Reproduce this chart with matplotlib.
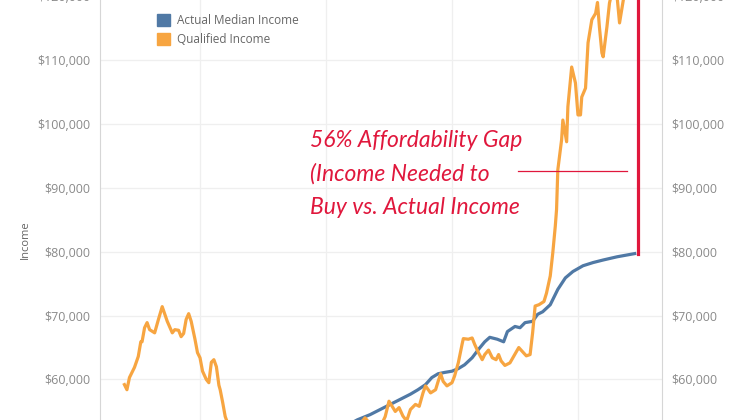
import matplotlib
matplotlib.use('Agg')
import matplotlib.pyplot as plt
from matplotlib.patches import Patch
from matplotlib.ticker import FuncFormatter

# qualified income (income needed to buy a median home)
q_years = [1984.0, 1984.2, 1984.4, 1984.6, 1984.8, 1985.1, 1985.3, 1985.4, 1985.6, 1985.8,
           1986.0, 1986.4, 1986.7, 1987.0, 1987.4, 1987.8, 1988.0, 1988.3, 1988.5, 1988.7,
           1988.9, 1989.1, 1989.3, 1989.6, 1989.8, 1990.0, 1990.2, 1990.5, 1990.7, 1990.9,
           1991.1, 1991.3, 1991.5, 1991.6, 1991.8, 1992.0, 1992.5, 1993.5, 1995.0, 1997.0,
           1999.0, 2001.0, 2002.5, 2003.1, 2003.6, 2004.3, 2004.7, 2005.0, 2005.5, 2005.8,
           2006.1, 2006.4, 2006.7, 2007.1, 2007.4, 2007.7, 2007.9, 2008.3, 2008.7, 2008.9,
           2009.1, 2009.3, 2009.6, 2010.0, 2010.2, 2010.5, 2010.8, 2010.9, 2011.3, 2011.6,
           2011.8, 2012.1, 2012.4, 2012.6, 2012.9, 2013.2, 2013.5, 2013.7, 2013.9, 2014.2,
           2014.6, 2015.3, 2015.9, 2016.2, 2016.4, 2016.6, 2016.9, 2017.3, 2017.5, 2017.8,
           2018.0, 2018.2, 2018.3, 2018.4, 2018.7, 2018.8, 2019.1, 2019.2, 2019.5, 2019.8,
           2020.0, 2020.2, 2020.3, 2020.6, 2020.8, 2021.1, 2021.4, 2021.55, 2021.7, 2021.9,
           2022.0, 2022.3, 2022.5, 2022.8, 2023.1, 2023.3, 2023.6, 2023.9, 2024.5]
qualified = [59200, 58400, 60300, 61100, 61900, 63600, 65900, 65900, 68100, 68900,
             67800, 67300, 69400, 71400, 69100, 67300, 67800, 67700, 66700, 67200,
             69400, 70300, 69100, 66300, 64200, 63400, 61300, 60000, 59500, 62700,
             63100, 62000, 59100, 58400, 56400, 54200, 51500, 48500, 47000, 47500,
             48500, 50500, 52500, 54000, 52800, 52500, 54200, 56600, 55000, 55600,
             54300, 53500, 55300, 56100, 55800, 57900, 59000, 57900, 58400, 59700,
             60900, 59700, 59000, 59500, 60500, 62600, 65500, 66400, 66300, 66500,
             65500, 64200, 63100, 63900, 64600, 63400, 63100, 63900, 62900, 62200,
             62600, 65000, 63700, 63900, 67300, 71500, 71700, 72200, 73500, 76200,
             79800, 84000, 86600, 92800, 97500, 100600, 97200, 102700, 108900, 106400,
             101400, 101400, 104200, 105600, 112700, 116300, 117300, 119000, 115200, 111100,
             110500, 115200, 118900, 121500, 120000, 115800, 119400, 123000, 124300]

# actual median household income
a_years = [1984.0, 1988.0, 1992.0, 1996.0, 2000.0, 2002.5, 2003.5, 2004.3, 2005.1, 2005.9,
           2006.7, 2007.3, 2007.9, 2008.4, 2008.9, 2009.4, 2010.0, 2010.5, 2011.0, 2011.6,
           2012.1, 2012.6, 2013.0, 2013.6, 2014.1, 2014.4, 2015.0, 2015.4, 2015.8, 2016.4,
           2016.8, 2017.2, 2017.8, 2018.4, 2019.0, 2019.6, 2020.4, 2021.2, 2022.0, 2023.1,
           2024.5]
actual = [36500, 40500, 44000, 47500, 51000, 53700, 54500, 55300, 56100, 56900,
          57700, 58400, 59200, 60300, 60900, 61100, 61300, 61700, 62300, 63400,
          64700, 65900, 66600, 66300, 65900, 67500, 68300, 68100, 68900, 69100,
          70200, 70600, 71700, 74100, 75900, 76900, 77800, 78300, 78700, 79200,
          79700]

y_ticks = [60000, 70000, 80000, 90000, 100000, 110000, 120000]
x_grid = [1990, 2000, 2010, 2020]

blue = '#5079a5'
orange = '#f7a541'
red = '#e0173c'
grey = '#8a8a8a'

fig = plt.figure(figsize=(7.4, 4.2), dpi=100)
ax = fig.add_axes([0.1351, -0.0557, 0.7595, 1.1411])

ax.plot(a_years, actual, color=blue, lw=2.3, solid_joinstyle='round', zorder=3)
ax.plot(q_years, qualified, color=orange, lw=2.3, solid_joinstyle='round', zorder=4)

# gap marker
ax.plot([2024.75, 2024.75], [actual[-1], qualified[-1]], color=red, lw=2.3, zorder=5)
ax.plot([2015.25, 2023.9], [92550, 92550], color=red, lw=0.9, zorder=5)

note = ['56% Affordability Gap', '(Income Needed to', 'Buy vs. Actual Income']
note_y = [96400, 91200, 85900]
for line, yv in zip(note, note_y):
    ax.text(1998.7, yv, line, color=red, fontsize=16.5, fontstyle='italic',
            family='Lato', va='baseline', ha='left', zorder=6)

ax.set_xlim(1982.06, 2026.67)
ax.set_ylim(50000, 125000)
ax.set_yticks(y_ticks)
ax.set_xticks(x_grid)
ax.yaxis.set_major_formatter(FuncFormatter(lambda v, p: '${:,.0f}'.format(v)))
ax.tick_params(axis='y', length=0, pad=7, labelsize=9, labelcolor=grey,
               labelleft=True, labelright=True)
ax.tick_params(axis='x', length=0, labelbottom=False)
for lab in ax.get_yticklabels():
    lab.set_family('Open Sans')
ax.grid(True, color='#efefef', lw=0.9)
ax.set_axisbelow(True)
for side in ['top', 'bottom']:
    ax.spines[side].set_visible(False)
for side in ['left', 'right']:
    ax.spines[side].set_color('#d6d6d6')

fig.text(0.034, 0.429, 'Income', rotation=90, ha='center', va='center',
         fontsize=8, color='#666666', family='Open Sans')

handles = [Patch(color=blue, label='Actual Median Income'),
           Patch(color=orange, label='Qualified Income')]
leg = ax.legend(handles=handles, loc='upper left', bbox_to_anchor=(0.212, 0.967),
                bbox_transform=fig.transFigure, frameon=False, handlelength=1.15,
                handleheight=1.15, handletextpad=0.55, labelspacing=0.5, borderpad=0,
                borderaxespad=0, prop={'family': 'Open Sans', 'size': 8.5})
for t in leg.get_texts():
    t.set_color('#666666')

fig.savefig('out.png', dpi=100)
